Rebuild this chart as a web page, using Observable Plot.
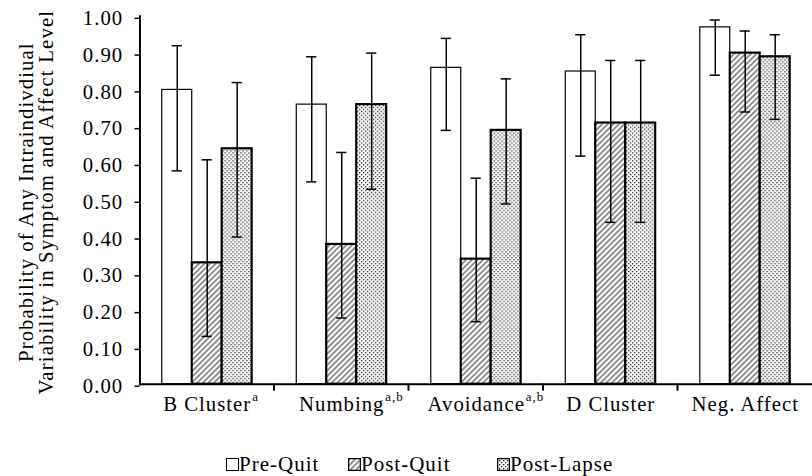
<!DOCTYPE html>
<html><head><meta charset="utf-8">
<script src="https://cdn.jsdelivr.net/npm/d3@7"></script>
<script src="https://cdn.jsdelivr.net/npm/@observablehq/plot@0.6"></script>
<style>
html,body{margin:0;padding:0;background:#fff;overflow:hidden;width:812px;height:476px;}
#wrap{position:relative;width:812px;height:476px;overflow:hidden;font-family:"Liberation Serif","Times New Roman",serif;color:#000;}
#chart{position:absolute;left:0;top:0;}
#legend{position:absolute;left:226px;top:452px;display:flex;font-size:21px;letter-spacing:1px;line-height:24px;}
.item{display:flex;align-items:center;}
.item svg{margin-right:0px;}
</style></head>
<body><div id="wrap"><div id="chart"></div><div id="legend"></div></div>
<script>
const categories = ["B Cluster", "Numbing", "Avoidance", "D Cluster", "Neg. Affect"];
const superscripts = ["a", "a,b", "a,b", "", ""];
const seriesNames = ["Pre-Quit", "Post-Quit", "Post-Lapse"];
const preQuit    = [0.80, 0.76, 0.86, 0.85, 0.97];
const preQuitLo  = [0.58, 0.55, 0.69, 0.62, 0.84];
const preQuitHi  = [0.92, 0.89, 0.94, 0.95, 0.99];
const postQuit   = [0.33, 0.38, 0.34, 0.71, 0.90];
const postQuitLo = [0.13, 0.18, 0.17, 0.44, 0.74];
const postQuitHi = [0.61, 0.63, 0.56, 0.88, 0.96];
const postLapse   = [0.64, 0.76, 0.69, 0.71, 0.89];
const postLapseLo = [0.40, 0.53, 0.49, 0.44, 0.72];
const postLapseHi = [0.82, 0.90, 0.83, 0.88, 0.95];
const yTicks = [0, 0.1, 0.2, 0.3, 0.4, 0.5, 0.6, 0.7, 0.8, 0.9, 1.0];
const yLabelLines = ["Probability of Any Intraindivdiual", "Variability in Symptom and Affect Level"];

const values = [preQuit, postQuit, postLapse];
const lows = [preQuitLo, postQuitLo, postLapseLo];
const highs = [preQuitHi, postQuitHi, postLapseHi];
const fills = {"Pre-Quit": "white", "Post-Quit": "url(#hatch)", "Post-Lapse": "url(#dots)"};
const widths = {"Pre-Quit": 1.2, "Post-Quit": 2.2, "Post-Lapse": 2.2};

const data = [];
categories.forEach((c, i) => seriesNames.forEach((s, j) => {
  data.push({category: c, series: s, value: values[j][i], lo: lows[j][i], hi: highs[j][i]});
}));

const barMarks = seriesNames.map(s => Plot.barY(data.filter(d => d.series === s), {
  fx: "category", x: "series", y: "value", fill: fills[s], stroke: "black", strokeWidth: widths[s]
}));

const plot = Plot.plot({
  width: 821, height: 425,
  marginLeft: 140, marginRight: 0, marginTop: 16, marginBottom: 37,
  style: {fontFamily: "'Liberation Serif', 'Times New Roman', serif", fontSize: "21px", letterSpacing: "1px", background: "white", color: "black", overflow: "visible"},
  fx: {domain: categories, padding: 0, label: null},
  x: {domain: seriesNames, paddingInner: 0, paddingOuter: 0.744, round: false, axis: null},
  y: {domain: [0, 1], label: null},
  marks: [
    ...barMarks,
    Plot.ruleX(data, {fx: "category", x: "series", y1: "lo", y2: "hi", stroke: "black", strokeWidth: 1.5}),
    Plot.tickY(data, {fx: "category", x: "series", y: "lo", insetLeft: 10, insetRight: 10, stroke: "black", strokeWidth: 1.5}),
    Plot.tickY(data, {fx: "category", x: "series", y: "hi", insetLeft: 10, insetRight: 10, stroke: "black", strokeWidth: 1.5}),
    Plot.frame({anchor: "left", facet: "super", stroke: "black", strokeWidth: 2}),
    Plot.frame({anchor: "bottom", facet: "super", stroke: "black", strokeWidth: 2}),
    Plot.axisY({ticks: yTicks, tickFormat: d3.format(".2f"), tickSize: 5, tickPadding: 12, strokeWidth: 1.5, dy: 2, label: null}),
    Plot.axisFx({anchor: "bottom", tickSize: 0, tickPadding: 12, label: null})
  ]
});

document.getElementById("chart").append(plot);

// pattern definitions
const svgSel = d3.select(plot);
const defs = svgSel.insert("defs", ":first-child");
const hatch = defs.append("pattern").attr("id", "hatch").attr("patternUnits", "userSpaceOnUse")
  .attr("width", 4).attr("height", 4).attr("patternTransform", "rotate(45)");
hatch.append("rect").attr("width", 4).attr("height", 4).attr("fill", "white");
hatch.append("line").attr("x1", 2).attr("y1", 0).attr("x2", 2).attr("y2", 4).attr("stroke", "#222").attr("stroke-width", 1.0);
const dots = defs.append("pattern").attr("id", "dots").attr("patternUnits", "userSpaceOnUse")
  .attr("width", 4).attr("height", 4);
dots.append("rect").attr("width", 4).attr("height", 4).attr("fill", "white");
dots.append("rect").attr("x", 0).attr("y", 0).attr("width", 1.3).attr("height", 1.3).attr("fill", "#222");
dots.append("rect").attr("x", 2).attr("y", 2).attr("width", 1.3).attr("height", 1.3).attr("fill", "#222");

// superscripts on category labels, keeping the main label centred
svgSel.selectAll('g[aria-label="fx-axis tick label"] text').each(function () {
  const idx = categories.indexOf(this.textContent);
  if (idx < 0 || !superscripts[idx]) return;
  const w = this.getComputedTextLength();
  d3.select(this).attr("text-anchor", "start").attr("dx", -w / 2);
  d3.select(this).append("tspan").attr("font-size", "13px").attr("dy", "-0.8em").attr("dx", 1).text(superscripts[idx]);
});

// tick marks at the category boundaries
const fx = plot.scale("fx");
const ys = plot.scale("y");
const bounds = categories.slice(1).map(c => fx.apply(c));
svgSel.append("g").attr("stroke", "black").attr("stroke-width", 2)
  .selectAll("line").data(bounds).join("line")
  .attr("x1", d => d).attr("x2", d => d)
  .attr("y1", ys.apply(0)).attr("y2", ys.apply(0) + 7);

// two-line rotated y-axis title, centred on the plot area
const yMid = (ys.apply(0) + ys.apply(1)) / 2 + 3;
const yLabelLengths = [322, 388];
svgSel.append("g").attr("text-anchor", "middle").attr("fill", "black").attr("letter-spacing", "0px")
  .selectAll("text").data(yLabelLines).join("text")
  .attr("transform", (d, i) => `translate(${33 + i * 21},${yMid}) rotate(-90)`)
  .attr("textLength", (d, i) => yLabelLengths[i]).attr("lengthAdjust", "spacing")
  .text(d => d);

// legend
const legendWidths = [122, 149, 140];
const legend = d3.select("#legend");
seriesNames.forEach((s, i) => {
  const item = legend.append("div").attr("class", "item").style("width", legendWidths[i] + "px");
  const sw = item.append("svg").attr("width", 13).attr("height", 13);
  sw.append("rect").attr("x", 0.5).attr("y", 0.5).attr("width", 12).attr("height", 12)
    .attr("fill", fills[s]).attr("stroke", "black").attr("stroke-width", s === "Pre-Quit" ? 1 : 1.5);
  item.append("span").text(s);
});
</script>
</body></html>
